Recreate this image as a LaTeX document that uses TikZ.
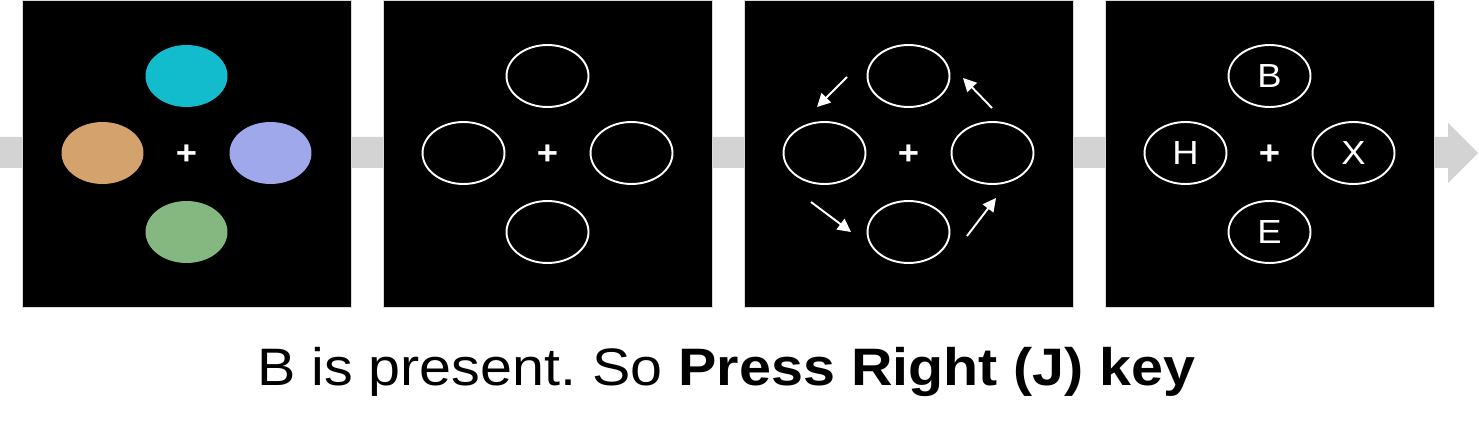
\documentclass[tikz,border=0pt]{standalone}
\usepackage{fontspec}
\setmainfont{Liberation Sans}[FakeStretch=1.09]
\usetikzlibrary{shapes.geometric,arrows.meta}
\frenchspacing

\definecolor{blobcyan}{HTML}{12BCCC}
\definecolor{blobtan}{HTML}{D4A26C}
\definecolor{bloblilac}{HTML}{9EA8EB}
\definecolor{blobgreen}{HTML}{84B880}
\definecolor{flowgray}{HTML}{D3D3D3}

\tikzset{
    panel/.style={fill=black,draw=gray!30,line width=0.4pt,minimum width=6.58cm,minimum height=6.14cm,inner sep=0},
    blob/.style={ellipse,minimum width=1.64cm,minimum height=1.24cm,inner sep=0},
    ring/.style={blob,draw=white,line width=1.1pt,text=white,font=\lettersize},
    cross/.style={text=white,inner sep=0,font=\crosssize},
    spin/.style={white,line width=1.1pt,-{Triangle[length=7.5pt,width=7.5pt]}}
}

\begin{document}
\begin{tikzpicture}[x=0.02cm,y=-0.02cm]
    % sizes in pixel units of the slide
    \pgfmathsetmacro{\dx}{84}
    \pgfmathsetmacro{\dy}{78}
    \pgfmathsetmacro{\cy}{154}
    \providecommand{\lettersize}{\fontsize{19}{19}\selectfont}
    \providecommand{\crosssize}{\bfseries\fontsize{19}{19}\selectfont}
    \providecommand{\captionsize}{\fontsize{30}{36}\selectfont}
    \useasboundingbox (0,0) rectangle (1479,435);
    % time line behind the panels
    \fill[flowgray] (0,137) -- (1448,137) -- (1448,123) -- (1478,153) -- (1448,183) -- (1448,168) -- (0,168) -- cycle;

    % panel 1: coloured placeholders
    \node[panel] (p1) at (186.5,153.5) {};
    \node[blob,fill=blobcyan] (p1t) at (186.5,\cy-\dy) {};
    \node[blob,fill=blobtan] (p1l) at (186.5-\dx,\cy-1) {};
    \node[blob,fill=bloblilac] (p1r) at (186.5+\dx,\cy-1) {};
    \node[blob,fill=blobgreen] (p1b) at (186.5,\cy+\dy) {};
    \node[cross] (p1c) at (186.5,\cy+1) {+};

    % panel 2: empty rings
    \node[panel] (p2) at (547.5,153.5) {};
    \node[ring] (p2t) at (547.5,\cy-\dy) {};
    \node[ring] (p2l) at (547.5-\dx,\cy-1) {};
    \node[ring] (p2r) at (547.5+\dx,\cy-1) {};
    \node[ring] (p2b) at (547.5,\cy+\dy) {};
    \node[cross] (p2c) at (547.5,\cy+1) {+};

    % panel 3: rings turning round
    \node[panel] (p3) at (908.5,153.5) {};
    \node[ring] (p3t) at (908.5,\cy-\dy) {};
    \node[ring] (p3l) at (908.5-\dx,\cy-1) {};
    \node[ring] (p3r) at (908.5+\dx,\cy-1) {};
    \node[ring] (p3b) at (908.5,\cy+\dy) {};
    \node[cross] (p3c) at (908.5,\cy+1) {+};
    \coordinate (s1) at (847,77);  \coordinate (e1) at (817,107);
    \coordinate (s2) at (992,108); \coordinate (e2) at (963,78);
    \coordinate (s3) at (811,202); \coordinate (e3) at (851,232);
    \coordinate (s4) at (967,236); \coordinate (e4) at (996,198);
    \draw[spin] (s1) -- (e1);
    \draw[spin] (s2) -- (e2);
    \draw[spin] (s3) -- (e3);
    \draw[spin] (s4) -- (e4);

    % panel 4: letters
    \node[panel] (p4) at (1269.5,153.5) {};
    \node[ring] (p4t) at (1269.5,\cy-\dy) {B};
    \node[ring] (p4l) at (1269.5-\dx,\cy-1) {H};
    \node[ring] (p4r) at (1269.5+\dx,\cy-1) {X};
    \node[ring] (p4b) at (1269.5,\cy+\dy) {E};
    \node[cross] (p4c) at (1269.5,\cy+1) {+};

    \node[anchor=base,inner sep=0,font=\captionsize] (msg) at (726.5,385) {B is present. So \textbf{Press Right (J) key}};
\end{tikzpicture}
\end{document}
